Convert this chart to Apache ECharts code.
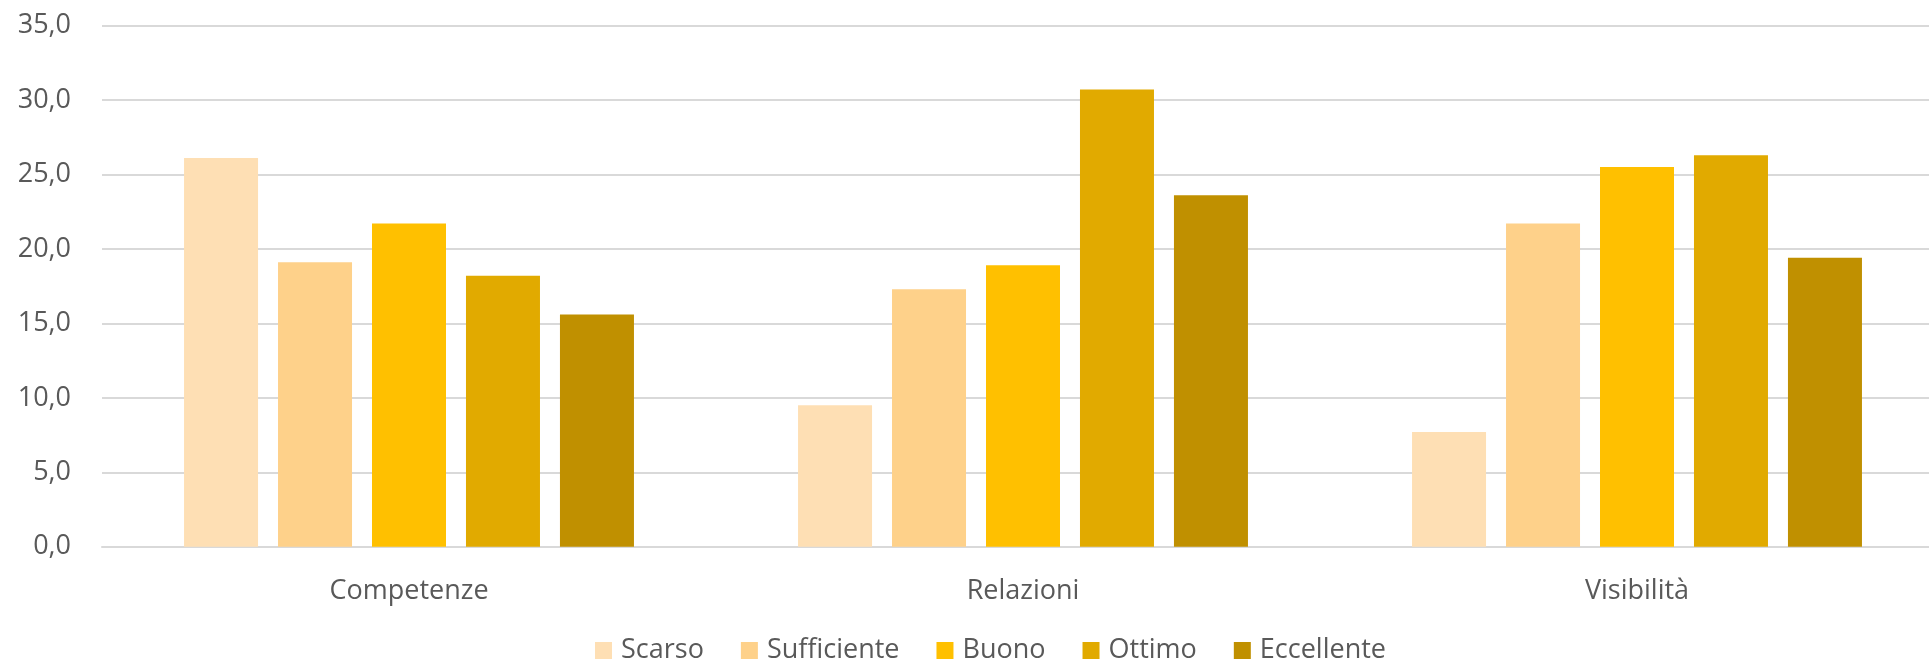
<!DOCTYPE html>
<html>
<head>
<meta charset="utf-8">
<script src="https://cdn.jsdelivr.net/npm/echarts@6/dist/echarts.min.js"></script>
<style>
html,body{margin:0;padding:0;background:#fff;overflow:hidden;width:1929px;height:663px;}
#chart{width:1945px;height:663px;}
</style>
</head>
<body>
<div id="chart"></div>
<script>
const categories = ['Competenze', 'Relazioni', 'Visibilità'];
const seriesNames = ['Scarso', 'Sufficiente', 'Buono', 'Ottimo', 'Eccellente'];
const scarso = [26.1, 9.5, 7.7];
const sufficiente = [19.1, 17.3, 21.7];
const buono = [21.7, 18.9, 25.5];
const ottimo = [18.2, 30.7, 26.3];
const eccellente = [15.6, 23.6, 19.4];
const colors = ['#FEDFB4', '#FED18A', '#FFC000', '#E1AA00', '#C09000'];
const seriesData = [scarso, sufficiente, buono, ottimo, eccellente];

const chart = echarts.init(document.getElementById('chart'));
const font = '"Open Sans", "DejaVu Sans", sans-serif';
chart.setOption({
  animation: false,
  backgroundColor: '#ffffff',
  grid: { left: 102, right: 1, top: 25.6, bottom: 116.3, containLabel: false },
  legend: {
    left: 590, top: 632,
    itemWidth: 17, itemHeight: 17, itemGap: 37,
    icon: 'rect',
    textStyle: { fontFamily: font, fontSize: 27, color: '#595959', padding: [0, 0, 0, 4] },
    data: seriesNames
  },
  xAxis: {
    type: 'category',
    data: categories,
    axisLine: { lineStyle: { color: '#D9D9D9', width: 2 } },
    axisTick: { show: false },
    axisLabel: { fontFamily: font, fontSize: 27, color: '#595959', margin: 31 }
  },
  yAxis: {
    type: 'value',
    min: 0, max: 35, interval: 5,
    axisLine: { show: false },
    axisTick: { show: false },
    splitLine: { lineStyle: { color: '#D9D9D9', width: 2 } },
    axisLabel: {
      fontFamily: font, fontSize: 27, color: '#595959', margin: 31,
      formatter: v => v.toFixed(1).replace('.', ',')
    }
  },
  series: seriesNames.map((name, i) => ({
    name: name,
    type: 'bar',
    data: seriesData[i],
    barWidth: 74,
    barGap: '27%',
    itemStyle: { color: colors[i] }
  }))
});
</script>
</body>
</html>
